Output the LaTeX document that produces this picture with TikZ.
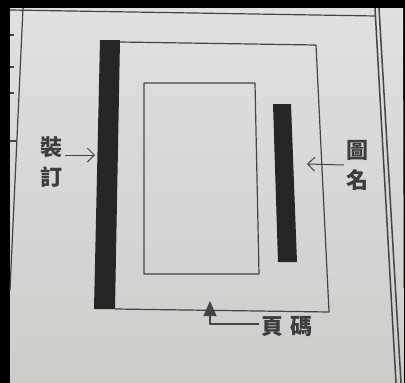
\documentclass[tikz,border=0pt]{standalone}
\usepackage{fontspec}
\newfontfamily\cjk{Noto Sans CJK TC}
\usepackage{tikz}
\usetikzlibrary{arrows}
\usetikzlibrary{arrows.meta}
\definecolor{paper}{HTML}{DFE1DF}
\definecolor{paperdk}{HTML}{CBCEC9}
\definecolor{ink}{HTML}{262626}
\definecolor{rule}{HTML}{444444}
\tikzset{l/.style={font=\cjk\bfseries\fontsize{22}{30}\selectfont, text=ink!90, inner sep=2pt, align=center}}
\tikzset{bar/.style={fill=ink, draw=none}}
\tikzset{fr/.style={draw=rule, line width=1.2pt, line join=round}}
\tikzset{ar/.style={draw=rule, line width=1pt, -{Straight Barb[length=7pt,width=14pt]}}}

\begin{document}
\begin{tikzpicture}[x=1pt,y=-1pt]
  \useasboundingbox (0,0) rectangle (405,383);
  % photo edge and sheet
  \fill[black] (0,0) rectangle (405,383);
  \shade[top color=paper, bottom color=paperdk] (10,8) -- (403,8) -- (404,383) -- (10,383) -- cycle;

  % rules of the sheet
  \draw[fr] (10,10) -- (376,16);
  \draw[fr] (23,8) -- (10,290);
  \draw[fr] (10,141) -- (17,141);
  \foreach \y in {35,67,93} \draw[fr] (10,\y) -- (14,\y);
  \draw[fr, line width=1.5pt] (375,8) -- (396,383);
  \draw[fr, line width=1.5pt] (379,8) -- (401,383);

  % page
  \fill[bar] (100,40) -- (120,40) -- (115,309) -- (94,309) -- cycle;
  \draw[fr] (120,42) -- (316,45) -- (329,312) -- (115,309);
  \draw[fr] (144,83) -- (255,83) -- (259,274) -- (144,274) -- cycle;
  \fill[bar] (273,104) -- (291,104) -- (297,262) -- (278,262) -- cycle;

  % labels
  \coordinate (ZB) at (95,155);
  \coordinate (TB) at (307,164);
  \coordinate (YB) at (210,301);
  \node[l] (ZD) at (52,162) {裝\\訂};
  \node[l] (TM) at (357,165) {圖\\名};
  \node[l] (YM) at (287,327) {頁\kern8pt碼};
  \draw[ar] ([yshift=7pt]ZD.east) -- (ZB);
  \draw[ar] (TM.west) -- (TB);
  \draw[fr, -{Triangle[length=15pt,width=13pt]}] ([yshift=3pt]YM.west) -| (YB);
\end{tikzpicture}
\end{document}
